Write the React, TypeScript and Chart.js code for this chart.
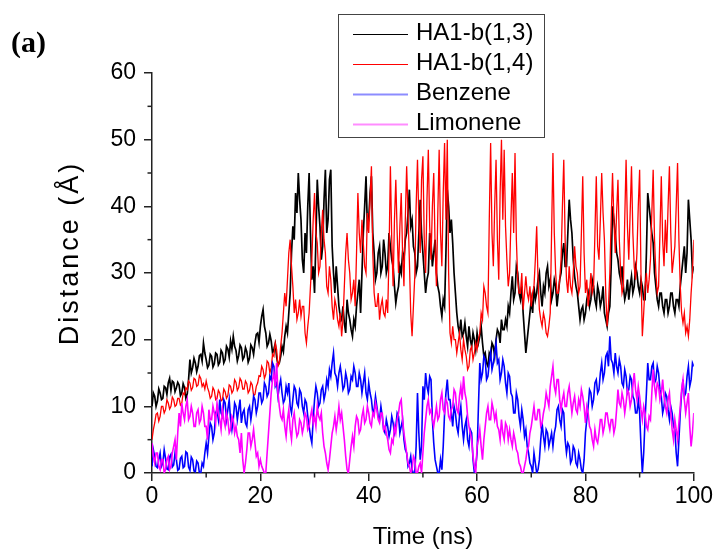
import React, { useEffect, useRef } from "react";
import { Chart, registerables } from "chart.js";

Chart.register(...registerables);

// ---------- data ----------
const SERIES_LABELS = ["HA1-b(1,3)", "HA1-b(1,4)", "Benzene", "Limonene"];
const SERIES_COLORS = ["#000000", "#ff0000", "#0000ff", "#ff00ff"];
const SERIES_WIDTHS = [1.7, 1.3, 1.6, 1.6];
const TIME_STEP_NS = 0.25; // sampling of the values below, 0..100 ns

const X_TITLE = "Time (ns)";
const Y_TITLE = "Distance (Å)";
const PANEL_LABEL = "(a)";
const X_MIN = 0;
const X_MAX = 100;
const X_MAJOR_STEP = 20;
const X_MINOR_TICKS = [10, 30, 50, 70, 90];
const Y_MIN = 0;
const Y_MAX = 60;
const Y_MAJOR_STEP = 10;
const Y_MINOR_TICKS = [5, 15, 25, 35, 45, 55];

const HA1_B13 = [
  10, 12, 11.5, 10, 10.8, 12.6, 12, 11, 11.2, 13, 12.8, 11.8, 13.5, 14.2, 12.4, 13.8, 13.6, 12.2, 12.8, 13.6,
  13.2, 11.6, 12, 13.4, 12.8, 11.2, 11.8, 14, 17, 15, 15.8, 17.2, 16.5, 15.2, 16, 17.6, 17.8, 16.8, 19.5, 18,
  17, 15.8, 16.2, 17.8, 17.5, 15.9, 16.4, 18, 17.8, 16.2, 16.6, 18.4, 18, 16.5, 17, 19, 18.6, 17.4, 19.8, 18.6,
  20.5, 19, 18.4, 16.8, 17.6, 19.2, 18.8, 17, 17.4, 18.8, 18.2, 16.6, 17.2, 19.2, 18.8, 17.8, 19.5, 20.8, 21, 19.6,
  22, 23.5, 24.5, 22, 21, 19, 19.5, 20.8, 19.8, 18, 18.6, 19.4, 17.4, 16.2, 16.5, 17.5, 19, 18.2, 20.5, 22,
  21, 24, 27, 33, 37, 35, 42, 39, 45, 41, 38, 32, 30, 36, 33, 40, 45, 36, 29, 31,
  27, 35, 44, 40, 37, 32, 34, 41, 45.5, 36, 38, 44, 45.5, 34, 30, 27, 31, 28, 25, 23.5,
  23, 25, 22.5, 21, 26, 24, 23, 21.5, 20.5, 23, 22, 25, 27, 29, 24, 30, 36, 40, 44.5, 37,
  38, 42, 44.5, 36, 33, 29, 30, 33, 34, 30, 31, 35, 33, 30, 31, 36, 34, 32, 31, 28,
  25.5, 27, 28, 31, 30, 33, 32, 35, 36, 39, 42.5, 37, 38, 34, 33, 30, 31, 36, 41, 36,
  33, 30, 27, 29, 30, 36, 34.5, 31, 33, 35, 30, 28, 27, 25, 23.5, 26, 25, 33, 42.5, 40,
  36, 38, 34.5, 30, 27, 24, 22, 21, 23, 20.5, 21, 22.5, 20.5, 19, 22, 20, 19, 21, 20, 18.5,
  21, 19.5, 20.5, 22, 19.5, 17.5, 18, 16.5, 16, 18, 17.5, 19.5, 19, 17.5, 20, 21.5, 21, 19.5, 23, 21.5,
  21.5, 23, 22, 25, 24, 27, 29.5, 26, 27, 31, 30, 27, 26, 28, 24, 21, 18, 20, 22, 24,
  26, 24, 28, 26, 27, 29, 30, 27, 25, 28, 27, 30, 31, 28, 29, 26, 27, 29, 28, 25,
  27, 29, 30, 33, 34.5, 31, 31, 36, 41, 38, 36, 32, 29.5, 28, 27, 25, 23, 24.5, 25, 23,
  24, 26, 27, 25, 26, 29, 28, 26, 25, 28, 27, 25, 26, 28, 24, 23, 22, 24, 25, 31,
  40, 38, 36, 33, 32, 30, 29, 31, 28, 26, 27, 29, 26, 28, 29.5, 27, 28, 31, 30, 28,
  27, 29, 28, 26, 26, 33, 42, 40, 38, 36, 34.5, 30, 28, 26, 25, 27, 27, 25, 24, 26,
  26, 24, 25, 27, 27, 25, 24, 26, 26, 25, 28, 30, 32, 34, 30, 33, 41, 38, 35, 30,
  31,
];

const HA1_B14 = [
  5, 6.5, 7.5, 8.8, 9, 7.8, 8.5, 10, 10, 9, 9.5, 11, 10.5, 9.6, 10, 11.4, 11, 10, 10.2, 11.2,
  11.2, 10.2, 10.5, 12, 11.8, 12.8, 12.5, 13.8, 13.5, 12.4, 12.8, 14.2, 14, 13, 13.2, 14.6, 14.2, 13, 13.4, 12.6,
  13.8, 12.8, 12.2, 11.2, 11.5, 12.8, 12.4, 11, 11.2, 12.4, 12, 10.8, 11, 12.6, 12.2, 11.2, 11.6, 13.2, 13, 12,
  12.4, 14, 13.6, 12.4, 12.8, 14.2, 13.8, 12.6, 12.6, 13.8, 13.4, 12, 12.4, 13.6, 13.2, 11.6, 11.8, 13, 13.5, 14.6,
  14.5, 16, 15.5, 14.2, 14.8, 16.8, 16.5, 15, 15.8, 17.8, 17.5, 19.5, 18.5, 16, 16.5, 19, 21, 24, 27, 25,
  29, 33, 35, 31, 28, 24, 26, 23, 24, 26, 23.5, 25, 25, 21, 19.5, 22, 24, 28, 32, 38,
  42, 36, 34.5, 30, 31, 36, 39.5, 35, 33, 28, 27, 31, 29, 25, 23, 26, 25, 23, 22, 24,
  20.5, 23, 28, 33, 36, 32, 30, 26, 27, 29, 25, 33, 42, 36, 33, 38, 34.5, 31, 30, 39,
  36, 41, 46, 33, 27, 25, 25, 27, 23, 25, 26, 24, 23.5, 26, 24, 33, 46, 35, 28, 38,
  44, 36, 30, 37, 42, 33, 28, 38, 46, 39, 32, 24, 20.5, 25, 29.5, 40, 47, 38, 33, 44,
  47.5, 35, 30, 41, 48.5, 37, 32, 40, 45, 34, 28, 39, 48.5, 36, 31, 42, 49.5, 38, 50, 30,
  21, 19.5, 22, 20, 20, 18, 19.5, 21, 18.5, 17, 20, 18.5, 17.5, 15.5, 16, 18.5, 19, 17, 18, 19.5,
  18.5, 20, 21, 24, 23, 28, 27, 25, 24, 38, 49.5, 36, 31, 40, 47, 35, 29, 42, 50, 38,
  48.5, 37, 32, 28, 30, 38, 45, 36, 48, 35, 29, 27, 27, 30, 24.5, 27, 29.5, 27, 26, 28,
  25, 27, 28, 32, 37, 29, 24.5, 23, 22, 24, 23, 21, 20.5, 22, 24, 36, 48, 36, 30, 27,
  27, 29, 32, 40, 47, 35, 29, 27, 31, 28, 27, 30, 34, 31, 30, 27, 28, 36, 44.5, 33,
  27, 29, 25, 27, 30, 27, 28, 36, 44.5, 34, 32, 38, 45, 39, 35, 27, 22, 25, 30, 38,
  45, 38, 33, 39, 44, 35, 30, 27, 28, 38, 47, 37, 32, 39, 46, 36, 31, 29, 33, 40,
  45.5, 30, 20.5, 24, 28, 30, 27, 29, 32, 39, 45.5, 35, 30, 27, 28, 36, 44.5, 35, 31, 38,
  33, 40, 46, 36, 30, 32, 34, 40, 46.5, 35, 28, 24, 22.5, 24, 21, 22, 20.5, 23, 27, 30,
  35,
];

const BENZENE = [
  1, 3.5, 2.5, 1, 0.8, 2, 3, 1, 1.5, 3.5, 2.2, 0.6, 0.5, 2.4, 2.8, 0.9, 1.2, 3, 2, 0.4,
  0.6, 2.2, 2.5, 0.8, 1, 3.2, 3, 0.9, 0.4, 2.4, 2, 0.3, 0.2, 1.8, 1.5, 0, 0, 1.5, 1, 3,
  4.5, 3, 5.5, 7.5, 7, 5, 6, 9, 9.5, 8, 11, 9, 8.5, 11, 10.5, 8, 9.5, 11, 8, 6.5,
  8, 10.5, 10, 8, 9.5, 11, 7.5, 9, 9.5, 7.5, 7, 9.5, 10, 8, 9.5, 11.5, 11, 9, 10, 12,
  12, 10.5, 11, 13.5, 13, 11.5, 12, 14.5, 14, 16.5, 16, 13, 13.5, 11.5, 13, 14, 12, 10.5, 11, 13,
  12, 13.5, 10, 9, 11, 13, 12.5, 10.5, 10, 12.5, 12, 10, 9, 11, 10.5, 8.5, 7, 5.5, 4.5, 8,
  11, 13, 12, 10, 10.5, 12.5, 13, 11, 12, 14, 13, 15.5, 14.5, 16.5, 18, 15, 14.5, 13, 15, 16,
  14.5, 12.5, 13, 15, 14, 12, 12.5, 14.5, 14, 16, 15, 13, 13, 15, 14, 12, 13.5, 15, 12, 11,
  13.5, 12, 11, 9, 9.5, 11.5, 10, 8.5, 8, 10, 8.5, 6.5, 6, 8, 7, 5.5, 6.5, 8.5, 7.5, 6,
  7, 9, 8.5, 6, 7, 8, 5, 3.5, 3, 1, 1.5, 2.5, 0.5, 0, 0, 4, 12, 6, 2, 4,
  13, 11, 15, 13, 12, 14.5, 14, 8, 4.5, 2, 1, 0, 0, 2, 0.5, 4, 9, 12, 14, 11,
  11, 9, 7, 10, 9, 7, 6, 8.5, 10, 7, 5, 7, 8, 5, 4, 6.5, 6, 2, 0, 1,
  3, 10, 16.5, 14, 15, 17.5, 17, 14, 14.5, 16.5, 18, 15.5, 16.5, 18, 19.5, 16.5, 17, 14, 15, 17,
  16, 13.5, 12, 15, 14.5, 12, 11.5, 9, 9, 12, 11, 8.5, 7, 9.5, 8, 5.5, 6.5, 4, 3, 1.5,
  1, 0, 3, 1.5, 0, 0.5, 2, 5, 7.5, 5.5, 4, 6.5, 6, 4, 5, 6, 4, 6, 7, 9.5,
  10, 8, 7, 9.5, 9, 5, 3, 4.5, 4, 1.5, 2, 4, 3.5, 1.5, 1, 3, 2, 0.5, 0, 2,
  6, 8, 10, 12.5, 12, 10, 11, 13.5, 14, 12, 12.5, 15, 16.5, 14, 15, 17.5, 18, 16, 20.5, 17,
  16.5, 15, 18, 16, 15, 17, 16, 13.5, 13, 15.5, 14.5, 12, 12.5, 14.5, 14, 11.5, 11, 9, 9, 11,
  9, 4, 0, 3, 8, 12, 16.5, 14, 14, 16, 16.5, 13.5, 14, 16, 15, 12.5, 11.5, 9, 10, 12,
  11.5, 9.5, 8, 10, 9, 7, 6.5, 3, 1, 5, 9, 12, 14, 11.5, 12, 14.5, 16, 13, 14, 16.5,
  16,
];

const LIMONENE = [
  4.5, 2.5, 1.5, 3, 3, 1, 0.5, 2, 2, 0, 0.5, 2, 2.5, 0.5, 1, 3, 4, 5, 2, 6,
  9, 7, 10.5, 9, 8, 10, 11, 8, 8.5, 10, 9, 7, 7, 9, 9.5, 7.5, 8, 10, 9, 7,
  7, 5, 9.5, 8, 8, 10, 9, 7.5, 10.5, 9, 8, 6.5, 9.5, 8, 7, 9, 8, 6, 6.5, 8.5,
  8, 6, 7, 5.5, 5, 3, 6, 2, 0, 1.5, 3.5, 6, 6, 4, 5, 6.5, 4.5, 2.5, 3, 1,
  2, 1, 0.5, 0, 0, 3, 6, 9, 12, 14, 15, 13, 16.5, 12, 10, 8.5, 8, 9.5, 7, 5.5,
  8, 9.5, 6.5, 5, 8, 9, 7, 5.5, 6, 8, 7.5, 6, 7, 9, 8.5, 6.5, 7, 8.5, 9.5, 7.5,
  8.5, 7, 10, 8.5, 8, 9, 6, 4, 3, 1.5, 0.5, 2, 4, 6, 7, 8.5, 6.5, 8, 10, 8,
  9, 7, 5, 2.5, 0.5, 0, 2, 4, 5.5, 4, 7, 8.5, 8, 6, 6.5, 8.5, 9.5, 7.5, 8, 10,
  9, 7.5, 7, 9, 8.5, 10.5, 9.5, 8, 7.5, 9, 9, 6.5, 7, 6, 5, 3.5, 3, 5, 4.5, 7,
  6, 8, 9, 10.5, 11, 8, 6, 4.5, 3, 1.5, 1, 0, 0.5, 2.5, 2, 0, 0, 1, 1.5, 0,
  3, 6, 8, 10, 11, 9, 9.5, 8, 7, 8.5, 10, 8, 8.5, 11, 12, 9.5, 9, 11, 10.5, 8.5,
  8, 9.5, 10, 12.5, 12, 9.5, 9, 11.5, 13, 11, 14.5, 12, 11, 8.5, 7, 6, 5, 2.5, 1, 0,
  4, 5, 6.5, 4, 2, 5, 7, 9, 10, 8, 8, 10.5, 9.5, 8, 9, 7, 6.5, 5, 8, 6,
  5, 7.5, 7, 5, 6.5, 5, 4, 6, 5, 3.5, 3, 1.5, 1, 0, 0, 1, 2, 3.5, 4, 6,
  7, 8.5, 10, 8, 8, 9.5, 9.5, 7, 7.5, 9, 10, 12, 11, 10, 13, 14.5, 16, 13, 12, 14,
  14, 11, 9.5, 11, 12, 10, 10, 12, 13, 11, 9, 10.5, 11.5, 9.5, 9, 11, 10, 12.5, 11.5, 10,
  7.5, 10, 9, 7, 6.5, 5, 4, 6.5, 5, 4.5, 6, 8, 8, 6, 7, 9, 9, 7.5, 6.5, 8,
  8, 6, 7, 9.5, 12.5, 10.5, 10, 12, 11, 9, 10.5, 12.5, 12, 10, 11, 13, 15, 12.5, 11, 13,
  11.5, 9.5, 8, 10, 9, 7, 6.5, 8.5, 8, 12, 15.5, 13, 11.5, 13.5, 13, 11, 12, 14, 11.5, 10,
  9, 11, 12, 9, 6.5, 5, 8, 6.5, 5, 7.5, 10, 12.5, 14, 11, 9, 10.5, 12, 7, 4, 6,
  9,
];

const SERIES_VALUES = [HA1_B13, HA1_B14, BENZENE, LIMONENE];

// ---------- styles ----------
const FONT_FAMILY = "'Liberation Sans', Arial, sans-serif";
const AXIS_COLOR = "#222222";

const decorPlugin = {
  id: "decor",
  afterDraw(chart: any) {
    const { ctx, scales } = chart;
    const xs = scales.x;
    const ys = scales.y;
    ctx.save();

    // minor ticks
    ctx.strokeStyle = AXIS_COLOR;
    ctx.lineWidth = 1.5;
    for (const v of Y_MINOR_TICKS) {
      const py = ys.getPixelForValue(v);
      ctx.beginPath();
      ctx.moveTo(ys.right - 4.5, py);
      ctx.lineTo(ys.right, py);
      ctx.stroke();
    }
    for (const v of X_MINOR_TICKS) {
      const px = xs.getPixelForValue(v);
      ctx.beginPath();
      ctx.moveTo(px, xs.top);
      ctx.lineTo(px, xs.top + 4.5);
      ctx.stroke();
    }

    // y-axis title
    ctx.fillStyle = "#000";
    ctx.font = `27px ${FONT_FAMILY}`;
    ctx.textAlign = "center";
    ctx.textBaseline = "middle";
    ctx.save();
    ctx.translate(71, 253);
    ctx.rotate(-Math.PI / 2);
    try {
      (ctx as any).letterSpacing = "3px";
    } catch (e) {
      /* ignore */
    }
    ctx.fillText(Y_TITLE, 0, 0);
    ctx.restore();

    // panel label
    ctx.font = `bold 30px 'Liberation Serif', 'Times New Roman', serif`;
    ctx.textAlign = "left";
    ctx.textBaseline = "alphabetic";
    ctx.fillText(PANEL_LABEL, 11, 52);

    // legend
    const bx = 338.5, by = 14.5, bw = 206, bh = 123;
    ctx.fillStyle = "#fff";
    ctx.fillRect(bx, by, bw, bh);
    ctx.strokeStyle = "#444";
    ctx.lineWidth = 1;
    ctx.strokeRect(bx, by, bw, bh);
    ctx.font = `24px ${FONT_FAMILY}`;
    ctx.textBaseline = "middle";
    ctx.textAlign = "left";
    SERIES_LABELS.forEach((label, i) => {
      const ly = by + 19 + i * 30;
      ctx.strokeStyle = SERIES_COLORS[i];
      ctx.lineWidth = i < 2 ? 1 : 2;
      ctx.globalAlpha = i < 2 ? 1 : 0.45;
      ctx.beginPath();
      ctx.moveTo(353, Math.round(ly) + 0.5);
      ctx.lineTo(408, Math.round(ly) + 0.5);
      ctx.stroke();
      ctx.globalAlpha = 1;
      ctx.fillStyle = "#000";
      ctx.fillText(label, 416, ly);
    });

    ctx.restore();
  },
};

export default function App() {
  const canvasRef = useRef<HTMLCanvasElement | null>(null);

  useEffect(() => {
    const canvas = canvasRef.current;
    if (!canvas) return;
    const datasets = SERIES_VALUES.map((values, si) => ({
      label: SERIES_LABELS[si],
      data: values.map((v, i) => ({ x: i * TIME_STEP_NS, y: v })),
      borderColor: SERIES_COLORS[si],
      backgroundColor: SERIES_COLORS[si],
      borderWidth: SERIES_WIDTHS[si],
      borderJoinStyle: "miter" as const,
      pointRadius: 0,
      tension: 0,
      fill: false,
      order: 4 - si,
    }));

    const chart = new Chart(canvas, {
      type: "line",
      data: { datasets },
      options: {
        animation: false,
        responsive: false,
        devicePixelRatio: 1,
        layout: { padding: { left: 0, right: 21, top: 73, bottom: 0 } },
        plugins: {
          legend: { display: false },
          tooltip: { enabled: false },
        },
        scales: {
          x: {
            type: "linear",
            min: X_MIN,
            max: X_MAX,
            afterFit: (s: any) => {
              s.height = 79;
            },
            ticks: {
              stepSize: X_MAJOR_STEP,
              maxRotation: 0,
              autoSkip: false,
              padding: 2,
              color: "#000",
              font: { family: FONT_FAMILY, size: 23 },
            },
            grid: {
              drawOnChartArea: false,
              drawTicks: true,
              tickLength: 8,
              color: AXIS_COLOR,
              lineWidth: 1.5,
            },
            border: { display: true, color: AXIS_COLOR, width: 1.5 },
            title: {
              display: true,
              text: X_TITLE,
              color: "#000",
              font: { family: FONT_FAMILY, size: 24 },
              padding: { top: 0, bottom: 0 },
            },
          },
          y: {
            type: "linear",
            min: Y_MIN,
            max: Y_MAX,
            afterFit: (s: any) => {
              s.width = 152;
            },
            ticks: {
              stepSize: Y_MAJOR_STEP,
              padding: 8,
              color: "#000",
              font: { family: FONT_FAMILY, size: 23 },
            },
            grid: {
              drawOnChartArea: false,
              drawTicks: true,
              tickLength: 8,
              color: AXIS_COLOR,
              lineWidth: 1.5,
            },
            border: { display: true, color: AXIS_COLOR, width: 1.5 },
          },
        },
      },
      plugins: [decorPlugin],
    });
    return () => chart.destroy();
  }, []);

  return (
    <div style={{ position: "fixed", left: 0, top: 0, width: 715, height: 552, background: "#fff" }}>
      <canvas ref={canvasRef} width={715} height={552} style={{ display: "block", width: 715, height: 552 }} />
    </div>
  );
}
